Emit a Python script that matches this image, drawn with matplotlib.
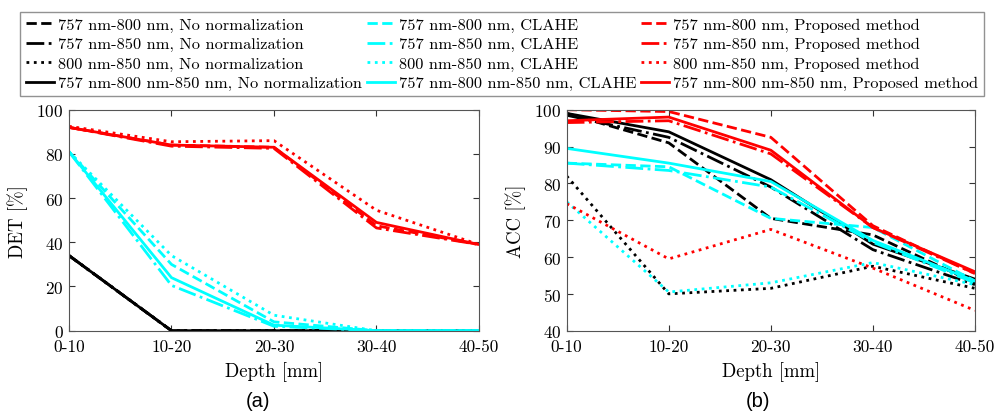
import numpy as np
import matplotlib
matplotlib.use("Agg")
import matplotlib.pyplot as plt

plt.rcParams['font.family'] = ['cmr10', 'DejaVu Serif']
plt.rcParams['mathtext.fontset'] = 'cm'
plt.rcParams['axes.formatter.use_mathtext'] = True

# Depth bins
depth = ["0-10", "10-20", "20-30", "30-40", "40-50"]

# DET [%] values (panel a)
det_none_800 = [34, 0, 0, 0, 0]
det_none_850 = [34, 0, 0, 0, 0]
det_none_800_850 = [34, 0, 0, 0, 0]
det_none_all = [34, 0, 0, 0, 0]
det_clahe_800 = [81, 30, 4, 0, 0]
det_clahe_850 = [81, 20.5, 2, 0, 0]
det_clahe_800_850 = [81, 34, 7, 0, 0]
det_clahe_all = [81, 24, 2.5, 0, 0]
det_prop_800 = [92, 84, 83, 47.5, 39]
det_prop_850 = [92, 83.5, 82.5, 46.5, 39]
det_prop_800_850 = [92.5, 85.5, 86, 54.5, 39]
det_prop_all = [92, 84, 83, 49, 39]

# ACC [%] values (panel b)
acc_none_800 = [99, 91, 70.5, 66, 53]
acc_none_850 = [98.5, 92.5, 79, 62, 52.5]
acc_none_800_850 = [82, 50, 51.5, 57.5, 51.5]
acc_none_all = [99, 94, 81, 63.5, 54]
acc_clahe_800 = [85.5, 84.5, 70.5, 68, 53.5]
acc_clahe_850 = [85.5, 83.5, 79, 64, 53]
acc_clahe_800_850 = [75, 50.5, 53, 58.5, 52.5]
acc_clahe_all = [89.5, 85.5, 80.5, 64.5, 53.5]
acc_prop_800 = [100, 99.5, 92.5, 68.5, 55.5]
acc_prop_850 = [96.5, 97, 88, 68, 55.5]
acc_prop_800_850 = [74.5, 59.5, 67.5, 57, 45.5]
acc_prop_all = [97, 98, 89, 68, 56]

methods = ["No normalization", "CLAHE", "Proposed method"]
colors = ["black", "cyan", "red"]
combos = ["757 nm-800 nm", "757 nm-850 nm", "800 nm-850 nm", "757 nm-800 nm-850 nm"]
styles = ["--", "-.", ":", "-"]

det = [[det_none_800, det_none_850, det_none_800_850, det_none_all],
       [det_clahe_800, det_clahe_850, det_clahe_800_850, det_clahe_all],
       [det_prop_800, det_prop_850, det_prop_800_850, det_prop_all]]
acc = [[acc_none_800, acc_none_850, acc_none_800_850, acc_none_all],
       [acc_clahe_800, acc_clahe_850, acc_clahe_800_850, acc_clahe_all],
       [acc_prop_800, acc_prop_850, acc_prop_800_850, acc_prop_all]]

x = np.arange(len(depth))

fig = plt.figure(figsize=(9.97, 4.14), dpi=100)
ax1 = fig.add_axes([0.0692, 0.1988, 0.4112, 0.5338])
ax2 = fig.add_axes([0.5684, 0.1988, 0.4095, 0.5338])

handles = []
for m in range(3):
    for c in range(4):
        ax1.plot(x, det[m][c], color=colors[m], ls=styles[c], lw=2)
        h, = ax2.plot(x, acc[m][c], color=colors[m], ls=styles[c], lw=2,
                      label=f"{combos[c]}, {methods[m]}")
        handles.append(h)

for ax, ylab, ylim, yt in [(ax1, "DET [%]", (0, 100), np.arange(0, 101, 20)),
                           (ax2, "ACC [%]", (40, 100), np.arange(40, 101, 10))]:
    ax.set_xlim(0, 4)
    ax.set_ylim(*ylim)
    ax.set_xticks(x)
    ax.set_xticklabels(depth)
    ax.set_yticks(yt)
    ax.tick_params(direction='in', top=True, right=True, length=4, width=0.8,
                   labelsize=12.5, color='#333333')
    ax.tick_params(axis='x', pad=6)
    ax.tick_params(axis='y', pad=4)
    ax.set_xlabel("Depth [mm]", fontsize=13.5, labelpad=5)
    ax.set_ylabel(ylab, fontsize=13.5, labelpad=6)
    for s in ax.spines.values():
        s.set_color('#555555')
        s.set_linewidth(0.8)

fig.text(0.259, 0.008, "(a)", family='Liberation Sans', fontsize=14.5, ha='center', va='bottom')
fig.text(0.760, 0.008, "(b)", family='Liberation Sans', fontsize=14.5, ha='center', va='bottom')

leg = fig.legend(handles=handles, loc='upper center', bbox_to_anchor=(0.5035, 0.969),
                 ncol=3, fontsize=11.8, frameon=True, fancybox=False, handlelength=1.7,
                 handletextpad=0.25, columnspacing=0.3, labelspacing=0.3,
                 borderpad=0.35, borderaxespad=0)
leg.get_frame().set_edgecolor('#777777')
leg.get_frame().set_linewidth(1.0)

fig.savefig("out.png", dpi=100)
